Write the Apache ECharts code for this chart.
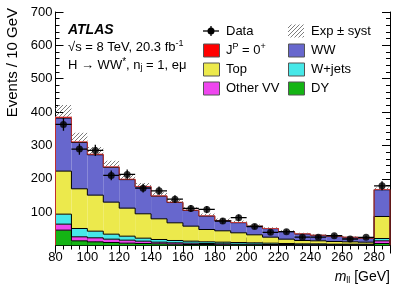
<!DOCTYPE html>
<html><head><meta charset="utf-8">
<script src="https://cdn.jsdelivr.net/npm/echarts@6/dist/echarts.min.js"></script>
<style>html,body{margin:0;padding:0;background:#fff}#c{width:399px;height:286px}</style>
</head><body><div id="c"></div>
<script>
const binLo = [80,90,100,110,120,130,140,150,160,170,180,190,200,210,220,230,240,250,260,270,280];
const binWidth = 10;
const dyVals  = [46,14,11,9,7,6,5,4,3,3,2,2,1.5,1,1,1,1,0.8,0.8,0.8,6];
const otherVV = [18,12,12,10,9,7,5,4,4,3,3,2,2.5,2,2,1,1,1.2,1.2,1.2,8];
const wJets   = [30,25,20,15,12,9,8,7,6,5,5,5,4,4,3,3,3,2,2,2,7];
const topBkg  = [129,119,108,96,84,73,62,53,45,37,34,29,24,18,13,10,9,8,7,6,66];
const wwVals  = [159,139,121,104.5,85.5,81,68,61,47,40.2,30.2,30.4,25.4,25.5,22.5,19.5,16.6,15.6,13.6,11.6,80];
const sigVals = [3,2,2,1.5,1.5,1,1,1,1,0.8,0.8,0.6,0.6,0.5,0.5,0.5,0.4,0.4,0.4,0.4,1];
const systErr = [36,27,21,18,14,10,11,9,9,7,6,6,5,4,4,3,3,3,3,3,6];
const dataVals = [363,289,285,210,213,172,164,139,111,108,73.5,83.5,57,39.5,41.5,25,25,29.5,19.5,24.5,179];
const dataErr  = [19,17,17,14.5,14.6,13.1,12.8,11.8,10.5,10.4,8.6,9.1,7.5,6.3,6.4,5,5,5.4,4.4,5,13.4];
const xTickLabels = [80,100,120,140,160,180,200,220,240,260,280];
const yTickLabels = [100,200,300,400,500,600,700];

const FONT = '"Liberation Sans", Arial, Helvetica, sans-serif';

// hatch pattern
const pc = document.createElement('canvas'); pc.width = 4; pc.height = 4;
const g = pc.getContext('2d');
g.strokeStyle = '#6e6e6e'; g.lineWidth = 0.9;
g.beginPath();
g.moveTo(0,4); g.lineTo(4,0);
g.moveTo(-1,1); g.lineTo(1,-1);
g.moveTo(3,5); g.lineTo(5,3);
g.stroke();
const hatch = {image: pc, repeat: 'repeat'};

const comps = [
  {name:'DY', vals: dyVals, color:'#14b414', line:'#000', lw:1},
  {name:'Other VV', vals: otherVV, color:'#ee46ee', line:'#000', lw:1},
  {name:'W+jets', vals: wJets, color:'#46e8e8', line:'#000', lw:1},
  {name:'Top', vals: topBkg, color:'#ece94c', line:'#000', lw:1},
  {name:'WW', vals: wwVals, color:'#6767cd', line:'#000', lw:1},
  {name:'Signal', vals: sigVals, color:'#ff3030', line:'#f03a3a', lw:0.8}
];

const series = [];
let base = binLo.map(() => 0);
comps.forEach((c, ci) => {
  const tops = base.map((b, i) => b + c.vals[i]);
  const items = binLo.map((lo, i) => [lo, lo + binWidth, base[i], tops[i], i > 0 ? tops[i-1] : 0, i === binLo.length - 1 ? 1 : 0]);
  const color = c.color, lineColor = c.line, lw = c.lw;
  series.push({
    type: 'custom', name: c.name, silent: true, animation: false, clip: true, z: 2,
    data: items,
    renderItem: function(params, api) {
      const lo = api.value(0), hi = api.value(1), b = api.value(2), t = api.value(3), pt = api.value(4), last = api.value(5);
      const p0 = api.coord([lo, b]), p1 = api.coord([hi, t]);
      const pp = api.coord([lo, pt]);
      const y0 = api.coord([lo, 0])[1];
      const children = [
        {type:'rect', shape:{x:p0[0], y:p1[1], width:p1[0]-p0[0], height:p0[1]-p1[1]}, style:{fill: color}, z2: 1},
        {type:'line', shape:{x1:p0[0], y1:p1[1], x2:p1[0], y2:p1[1]}, style:{stroke: lineColor, lineWidth: lw}, z2: 10 + ci},
        {type:'line', shape:{x1:p0[0], y1:pp[1], x2:p0[0], y2:p1[1]}, style:{stroke: lineColor, lineWidth: lw}, z2: 10 + ci}
      ];
      if (last) children.push({type:'line', shape:{x1:p1[0], y1:p1[1], x2:p1[0], y2:y0}, style:{stroke: lineColor, lineWidth: lw}, z2: 10 + ci});
      return {type:'group', children: children};
    }
  });
  base = tops;
});
const totals = base;

// systematic band (hatched, above the stack)
series.push({
  type:'custom', name:'Exp ± syst', silent:true, animation:false, clip:true, z:3,
  data: binLo.map((lo, i) => [lo, lo + binWidth, totals[i], totals[i] + systErr[i]]),
  renderItem: function(params, api) {
    const p0 = api.coord([api.value(0), api.value(2)]), p1 = api.coord([api.value(1), api.value(3)]);
    return {type:'rect', shape:{x:p0[0], y:p1[1], width:p1[0]-p0[0], height:p0[1]-p1[1]}, style:{fill: hatch}};
  }
});

// data error bars
series.push({
  type:'custom', name:'Data err', silent:true, animation:false, clip:true, z:4,
  data: binLo.map((lo, i) => [lo, lo + binWidth, dataVals[i], dataErr[i]]),
  renderItem: function(params, api) {
    const lo = api.value(0), hi = api.value(1), v = api.value(2), e = api.value(3);
    const a = api.coord([lo, v]), b = api.coord([hi, v]);
    const c = api.coord([(lo+hi)/2, v - e]), d = api.coord([(lo+hi)/2, v + e]);
    return {type:'group', children:[
      {type:'line', shape:{x1:a[0], y1:a[1], x2:b[0], y2:b[1]}, style:{stroke:'#000', lineWidth:1.3}},
      {type:'line', shape:{x1:c[0], y1:c[1], x2:d[0], y2:d[1]}, style:{stroke:'#000', lineWidth:1.3}}
    ]};
  }
});
series.push({
  type:'scatter', name:'Data', silent:true, animation:false, z:5,
  symbol:'circle', symbolSize:7, itemStyle:{color:'#000'},
  data: binLo.map((lo, i) => [lo + binWidth/2, dataVals[i]])
});

const axisCommon = {
  axisLine:{show:true, lineStyle:{color:'#000', width:1}},
  splitLine:{show:false},
  axisTick:{show:true, inside:true, length:8, lineStyle:{color:'#000'}},
  minorTick:{show:true, length:4, lineStyle:{color:'#000'}}
};
function xAx(pos, labels) {
  return Object.assign({}, axisCommon, {
    type:'value', min:80, max:290, interval:20, position:pos,
    minorTick:{show:true, length:4, splitNumber:4, lineStyle:{color:'#000'}},
    axisLabel:{show:labels, fontFamily:FONT, fontSize:13, color:'#000', margin:5,
      formatter: v => xTickLabels.indexOf(v) >= 0 ? String(v) : ''}
  });
}
function yAx(pos, labels) {
  return Object.assign({}, axisCommon, {
    type:'value', min:0, max:700, interval:100, position:pos,
    minorTick:{show:true, length:4, splitNumber:5, lineStyle:{color:'#000'}},
    axisLabel:{show:labels, fontFamily:FONT, fontSize:13, color:'#000', margin:3,
      formatter: v => yTickLabels.indexOf(v) >= 0 ? String(v) : ''}
  });
}

const txt = {fontFamily: FONT, fill:'#000'};
const graphics = [];
// axis titles
graphics.push({type:'text', x:13, y:8, rotation:Math.PI/2,
  style:Object.assign({}, txt, {text:'Events / 10 GeV', fontSize:15, align:'right', verticalAlign:'middle'})});
graphics.push({type:'text', x:390, y:277,
  style:Object.assign({}, txt, {text:'{i|m}{s|ll}{n| [GeV]}', align:'right', verticalAlign:'middle',
    rich:{i:{fontFamily:FONT, fontSize:14, fontStyle:'italic', lineHeight:16, verticalAlign:'middle'},
          s:{fontFamily:FONT, fontSize:9, lineHeight:16, verticalAlign:'bottom'},
          n:{fontFamily:FONT, fontSize:14, lineHeight:16}}})});
// ATLAS labels
graphics.push({type:'text', x:68, y:30, style:Object.assign({}, txt, {text:'ATLAS', fontSize:14, fontWeight:'bold', fontStyle:'italic', verticalAlign:'middle'})});
graphics.push({type:'text', x:68, y:47, style:Object.assign({}, txt, {text:'{n|√s = 8 TeV, 20.3 fb}{p|-1}', verticalAlign:'middle',
  rich:{n:{fontFamily:FONT, fontSize:13, lineHeight:15}, p:{fontFamily:FONT, fontSize:9, lineHeight:15, verticalAlign:'top'}}})});
graphics.push({type:'text', x:68, y:65, style:Object.assign({}, txt, {text:'{n|H → WW}{p|*}{n|, n}{s|j}{n| = 1, eμ}', verticalAlign:'middle',
  rich:{n:{fontFamily:FONT, fontSize:13, lineHeight:15}, p:{fontFamily:FONT, fontSize:10, lineHeight:15, verticalAlign:'top'},
        s:{fontFamily:FONT, fontSize:9, lineHeight:15, verticalAlign:'bottom'}}})});

// legend
const rowY = [31, 50, 69, 88];
const col1 = 203, col2 = 288, boxW = 16, boxH = 13;
const legItems = [
  {col:0,row:0,kind:'data', label:'{n|Data}'},
  {col:0,row:1,kind:'box', color:'#ff0000', label:'{n|J}{p|P}{n| = 0}{p|+}'},
  {col:0,row:2,kind:'box', color:'#ece94c', label:'{n|Top}'},
  {col:0,row:3,kind:'box', color:'#ee46ee', label:'{n|Other VV}'},
  {col:1,row:0,kind:'hatch', label:'{n|Exp ± syst}'},
  {col:1,row:1,kind:'box', color:'#6767cd', label:'{n|WW}'},
  {col:1,row:2,kind:'box', color:'#46e8e8', label:'{n|W+jets}'},
  {col:1,row:3,kind:'box', color:'#14b414', label:'{n|DY}'}
];
legItems.forEach(it => {
  const x0 = it.col === 0 ? col1 : col2;
  const yc = rowY[it.row];
  if (it.kind === 'data') {
    graphics.push({type:'line', shape:{x1:x0, y1:yc, x2:x0+boxW, y2:yc}, style:{stroke:'#000', lineWidth:1.3}});
    graphics.push({type:'line', shape:{x1:x0+boxW/2, y1:yc-5, x2:x0+boxW/2, y2:yc+5}, style:{stroke:'#000', lineWidth:1.3}});
    graphics.push({type:'circle', shape:{cx:x0+boxW/2, cy:yc, r:3.5}, style:{fill:'#000'}});
  } else if (it.kind === 'hatch') {
    graphics.push({type:'rect', shape:{x:x0, y:yc-boxH/2, width:boxW, height:boxH}, style:{fill:hatch}});
  } else {
    graphics.push({type:'rect', shape:{x:x0+0.5, y:yc-boxH/2+0.5, width:boxW, height:boxH}, style:{fill:it.color, stroke:'#555', lineWidth:1}});
  }
  graphics.push({type:'text', x:x0+boxW+7, y:yc, style:Object.assign({}, txt, {text:it.label, verticalAlign:'middle',
    rich:{n:{fontFamily:FONT, fontSize:13, lineHeight:15}, p:{fontFamily:FONT, fontSize:9, lineHeight:15, verticalAlign:'top'}}})});
});

const chart = echarts.init(document.getElementById('c'), null, {renderer:'canvas'});
chart.setOption({
  animation:false,
  backgroundColor:'#fff',
  grid:{left:55.5, right:9, top:12, bottom:40.5, containLabel:false},
  xAxis:[xAx('bottom', true), xAx('top', false)],
  yAxis:[yAx('left', true), yAx('right', false)],
  series: series,
  graphic: graphics
});
</script>
</body></html>
